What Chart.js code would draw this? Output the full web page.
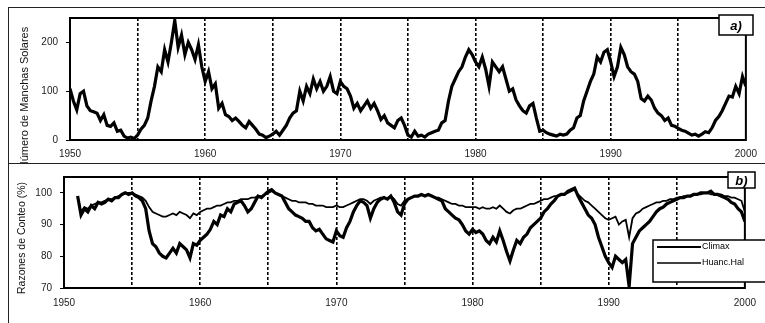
<!DOCTYPE html>
<html>
<head>
<meta charset="utf-8">
<script src="https://cdn.jsdelivr.net/npm/chart.js@4.4.0/dist/chart.umd.min.js"></script>
<style>
  body { margin: 0; background: #fff; }
  #wrap { position: relative; width: 765px; height: 323px; overflow: hidden; background: #fff; }
  .line { position: absolute; background: #222; }
  canvas { position: absolute; left: 0; }
</style>
</head>
<body>
<div id="wrap">
  <div class="line" style="left:8px; top:7px; width:757px; height:1px;"></div>
  <div class="line" style="left:8px; top:7px; width:1px; height:316px;"></div>
  <div class="line" style="left:8px; top:163px; width:757px; height:1px;"></div>
  <canvas id="topChart" width="765" height="163" style="top:0"></canvas>
  <canvas id="bottomChart" width="765" height="160" style="top:163px"></canvas>
</div>
<script>
// número de manchas solares, trimestral desde 1950.0
const sunspotStart = 1950;
const sunspotValues = [
  105, 80, 62, 95,     // 1950
  100, 70, 60, 58,     // 1951
  55, 40, 52, 30,      // 1952
  28, 35, 18, 20,      // 1953
  8, 4, 6, 3,          // 1954
  10, 22, 30, 45,      // 1955
  80, 110, 150, 140,   // 1956
  185, 160, 200, 245,  // 1957
  190, 215, 175, 200,  // 1958
  185, 165, 195, 150,  // 1959
  120, 140, 105, 115,  // 1960
  65, 75, 52, 48,      // 1961
  40, 45, 38, 30,      // 1962
  25, 38, 30, 22,      // 1963
  12, 10, 5, 8,        // 1964
  12, 18, 10, 20,      // 1965
  30, 45, 55, 60,      // 1966
  100, 80, 110, 95,    // 1967
  125, 105, 120, 100,  // 1968
  110, 130, 100, 95,   // 1969
  120, 110, 105, 90,   // 1970
  65, 75, 60, 70,      // 1971
  80, 65, 75, 60,      // 1972
  42, 50, 35, 30,      // 1973
  25, 40, 45, 30,      // 1974
  10, 6, 18, 8,        // 1975
  10, 6, 12, 15,       // 1976
  18, 20, 35, 40,      // 1977
  80, 110, 125, 140,   // 1978
  150, 170, 185, 175,  // 1979
  160, 150, 170, 145,  // 1980
  110, 160, 150, 140,  // 1981
  150, 125, 100, 105,  // 1982
  82, 70, 60, 55,      // 1983
  70, 75, 45, 18,      // 1984
  20, 15, 12, 10,      // 1985
  8, 12, 10, 12,       // 1986
  20, 25, 45, 50,      // 1987
  80, 100, 120, 135,   // 1988
  170, 160, 180, 185,  // 1989
  160, 130, 150, 190,  // 1990
  175, 150, 140, 135,  // 1991
  120, 85, 80, 90,     // 1992
  82, 65, 55, 50,      // 1993
  40, 45, 30, 28,      // 1994
  24, 20, 18, 14,      // 1995
  10, 12, 8, 12,       // 1996
  17, 15, 25, 40,      // 1997
  48, 60, 75, 90,      // 1998
  88, 110, 95, 130,    // 1999
  110                  // 2000
];

// razones de conteo (%), trimestral desde 1951.0
const rateStart = 1951;
const climaxValues = [
  99, 93, 95, 94,          // 1951
  96, 95, 97, 96.5,        // 1952
  97, 98, 97.5, 98.5,      // 1953
  98.5, 99.5, 100, 99.5,   // 1954
  100, 99, 98.5, 97.5,     // 1955
  95, 88, 84, 83,          // 1956
  81, 80, 79.5, 81,        // 1957
  82.5, 81, 84, 83,        // 1958
  82, 79.5, 84, 83.5,      // 1959
  85, 86, 87, 88.5,        // 1960
  91, 90, 93, 92.5,        // 1961
  95, 94, 96.5, 97,        // 1962
  97.5, 96, 94, 95,        // 1963
  97, 99, 98.5, 99.5,      // 1964
  100.5, 101, 100, 99.5,   // 1965
  99, 97, 95, 94,          // 1966
  93, 92.5, 92, 91,        // 1967
  91, 89, 88, 88.5,        // 1968
  87, 85.5, 85, 84.5,      // 1969
  88, 86.5, 86, 89,        // 1970
  91, 94, 96, 97.5,        // 1971
  97, 96, 92, 95,          // 1972
  97, 98, 98.5, 98,        // 1973
  99, 97, 94, 93,          // 1974
  96.5, 98, 98.5, 99,      // 1975
  99, 99.5, 99, 99.5,      // 1976
  99, 98.5, 98, 97.5,      // 1977
  95, 94, 93, 92,          // 1978
  91.5, 90, 88, 87,        // 1979
  88.5, 87.5, 88, 87,      // 1980
  85, 84, 86, 84.5,        // 1981
  88, 85, 81.5, 78.5,      // 1982
  82, 85, 84, 86,          // 1983
  87, 89, 90, 91,          // 1984
  92, 94, 95, 96.5,        // 1985
  97.5, 99, 99.5, 99.5,    // 1986
  100.5, 101, 101.5, 99,   // 1987
  97, 95, 93, 92,          // 1988
  90, 86, 83, 80,          // 1989
  78, 76.5, 80, 79,        // 1990
  78, 79, 70.5, 84,        // 1991
  86, 88, 89, 90,          // 1992
  91, 92.5, 94, 95,        // 1993
  95.5, 96.5, 97, 97.5,    // 1994
  98, 98.5, 98.5, 99,      // 1995
  99, 99.5, 99.5, 100,     // 1996
  100, 100, 100.5, 99.5,   // 1997
  99.5, 99, 98.5, 98,      // 1998
  97, 96.5, 95, 94,        // 1999
  91                       // 2000
];
const huancValues = [
  99, 94, 95.5, 95,        // 1951
  96, 96.5, 97, 97,        // 1952
  97.5, 98, 98, 98.5,      // 1953
  99, 99.5, 100, 100,      // 1954
  100, 99.5, 99, 98.5,     // 1955
  97.5, 95.5, 94, 93.5,    // 1956
  93, 92.5, 92.5, 93,      // 1957
  93.5, 93, 94, 93.5,      // 1958
  93, 92, 93.5, 93,        // 1959
  94, 94.5, 95, 95,        // 1960
  95.5, 96, 96, 96.5,      // 1961
  97, 97, 97.5, 97.5,      // 1962
  98, 98, 98, 98.5,        // 1963
  98.5, 99, 99, 99.5,      // 1964
  100, 100.5, 100, 99.5,   // 1965
  99, 98.5, 98, 97.5,      // 1966
  97.5, 97, 97, 97,        // 1967
  96.5, 96.5, 96, 96,      // 1968
  96, 95.5, 95.5, 95.5,    // 1969
  96, 95.5, 95.5, 96,      // 1970
  96.5, 97, 97.5, 98,      // 1971
  98, 97.5, 96.5, 97.5,    // 1972
  98, 98.5, 98.5, 98,      // 1973
  99, 98, 96.5, 96,        // 1974
  97.5, 98, 98.5, 99,      // 1975
  99, 99.5, 99, 99.5,      // 1976
  99, 98.5, 98.5, 98,      // 1977
  97.5, 97, 96.5, 96.5,    // 1978
  96, 96, 95.5, 95.5,      // 1979
  95.5, 95.5, 95, 95.5,    // 1980
  95, 95, 95.5, 95,        // 1981
  96, 95, 94, 93.5,        // 1982
  94.5, 95, 95, 95.5,      // 1983
  96, 96.5, 96.5, 97,      // 1984
  97.5, 98, 98, 98.5,      // 1985
  99, 99, 99.5, 99.5,      // 1986
  100, 100.5, 101, 99.5,   // 1987
  98.5, 97.5, 97, 96,      // 1988
  95, 94, 93, 92,          // 1989
  91.5, 92, 92.5, 90,      // 1990
  91, 91.5, 86, 92,        // 1991
  93.5, 94, 95, 95.5,      // 1992
  96, 96.5, 97, 97,        // 1993
  97.5, 97.5, 98, 98,      // 1994
  98.5, 98.5, 99, 99,      // 1995
  99, 99.5, 99.5, 99.5,    // 1996
  100, 100, 99.5, 99.5,    // 1997
  99.5, 99.5, 99, 99,      // 1998
  98.5, 98.5, 98, 97.5,    // 1999
  94                       // 2000
];

const yearTicks = [1950, 1960, 1970, 1980, 1990, 2000];
const sunspotTicks = [0, 100, 200];
const rateTicks = [70, 80, 90, 100];

// años trimestrales -> puntos {x, y}
function toPoints(start, values) {
  return values.map((v, i) => ({ x: start + i / 4, y: v }));
}

// marco del área, etiqueta a)/b), título del eje y leyenda
const panelPlugin = {
  id: 'panel',
  afterDraw(chart, args, opts) {
    const ctx = chart.ctx;
    const a = chart.chartArea;
    ctx.save();
    ctx.strokeStyle = '#000';
    ctx.lineWidth = 2;
    ctx.strokeRect(a.left, a.top, a.right - a.left, a.bottom - a.top);

    // título del eje y
    ctx.translate(opts.titleX, opts.titleY);
    ctx.rotate(-Math.PI / 2);
    ctx.fillStyle = '#111';
    ctx.font = opts.titleFont;
    ctx.textAlign = 'center';
    ctx.textBaseline = 'middle';
    ctx.fillText(opts.title, 0, 0);
    ctx.setTransform(1, 0, 0, 1, 0, 0);

    // caja con la letra del panel
    const b = opts.tagBox;
    ctx.fillStyle = '#fff';
    ctx.fillRect(b[0], b[1], b[2], b[3]);
    ctx.lineWidth = 1.5;
    ctx.strokeRect(b[0], b[1], b[2], b[3]);
    ctx.fillStyle = '#000';
    ctx.font = 'italic bold 13px Arial';
    ctx.textAlign = 'center';
    ctx.textBaseline = 'middle';
    ctx.fillText(opts.tag, b[0] + b[2] / 2, b[1] + b[3] / 2 + 1);

    // leyenda (solo panel b)
    if (opts.legendBox) {
      const l = opts.legendBox;
      ctx.fillStyle = '#fff';
      ctx.fillRect(l[0], l[1], l[2], l[3]);
      ctx.lineWidth = 1.5;
      ctx.strokeRect(l[0], l[1], l[2], l[3]);
      ctx.font = '9px Arial';
      ctx.textAlign = 'left';
      chart.data.datasets.forEach((ds, i) => {
        const y = l[1] + 7 + i * 16;
        ctx.strokeStyle = '#000';
        ctx.lineWidth = ds.borderWidth > 2 ? 2 : 1.5;
        ctx.beginPath();
        ctx.moveTo(l[0] + 4, y);
        ctx.lineTo(l[0] + 48, y);
        ctx.stroke();
        ctx.fillStyle = '#000';
        ctx.fillText(ds.label, l[0] + 49, y);
      });
    }
    ctx.restore();
  }
};

function xScale(tickPad, height) {
  return {
    type: 'linear',
    min: 1950,
    max: 2000,
    afterFit: s => { s.height = height; },
    ticks: {
      stepSize: 5,
      padding: tickPad,
      maxRotation: 0,
      autoSkip: false,
      color: '#222',
      font: { family: 'Arial', size: 10 },
      callback: v => (yearTicks.includes(v) ? String(v) : '')
    },
    grid: {
      drawTicks: false,
      color: c => (c.tick && (c.tick.value === 1950 || c.tick.value === 2000) ? 'rgba(0,0,0,0)' : '#000'),
      lineWidth: 1.6
    },
    border: { display: false, dash: [3, 2] }
  };
}

function yScale(min, max, ticks, width) {
  return {
    min: min,
    max: max,
    afterFit: s => { s.width = width; },
    afterBuildTicks: s => { s.ticks = ticks.map(v => ({ value: v })); },
    ticks: {
      padding: 8,
      color: '#222',
      font: { family: 'Arial', size: 10 }
    },
    grid: { drawOnChartArea: false, tickLength: 4, color: '#000' },
    border: { display: false }
  };
}

// panel a) manchas solares
let topChart = new Chart(document.getElementById('topChart').getContext('2d'), {
  type: 'line',
  data: {
    datasets: [{
      label: 'Manchas solares',
      data: toPoints(sunspotStart, sunspotValues),
      borderColor: '#000',
      borderWidth: 3.2,
      pointRadius: 0,
      tension: 0
    }]
  },
  options: {
    responsive: false,
    animation: false,
    devicePixelRatio: 1,
    layout: { padding: { top: 18, right: 17, left: 0, bottom: 0 } },
    plugins: {
      legend: { display: false },
      tooltip: { enabled: false },
      panel: {
        title: 'Número de Manchas Solares',
        titleX: 25,
        titleY: 98,
        titleFont: '11px Arial',
        tag: 'a)',
        tagBox: [719, 15, 34, 20]
      }
    },
    scales: {
      x: xScale(8, 23),
      y: yScale(0, 250, sunspotTicks, 70)
    }
  },
  plugins: [panelPlugin]
});

// panel b) razones de conteo
let bottomChart = new Chart(document.getElementById('bottomChart').getContext('2d'), {
  type: 'line',
  data: {
    datasets: [{
      label: 'Climax',
      data: toPoints(rateStart, climaxValues),
      borderColor: '#000',
      borderWidth: 3.2,
      pointRadius: 0,
      tension: 0
    }, {
      label: 'Huanc.Hal',
      data: toPoints(rateStart, huancValues),
      borderColor: '#000',
      borderWidth: 1.8,
      pointRadius: 0,
      tension: 0
    }]
  },
  options: {
    responsive: false,
    animation: false,
    devicePixelRatio: 1,
    layout: { padding: { top: 14, right: 19, left: 0, bottom: 0 } },
    plugins: {
      legend: { display: false },
      tooltip: { enabled: false },
      panel: {
        title: 'Razones de Conteo (%)',
        titleX: 22,
        titleY: 75,
        titleFont: '10.5px Arial',
        tag: 'b)',
        tagBox: [728, 9, 27, 16],
        legendBox: [653, 77, 118, 42]
      }
    },
    scales: {
      x: xScale(9, 35),
      y: yScale(70, 105, rateTicks, 64)
    }
  },
  plugins: [panelPlugin]
});
</script>
</body>
</html>
